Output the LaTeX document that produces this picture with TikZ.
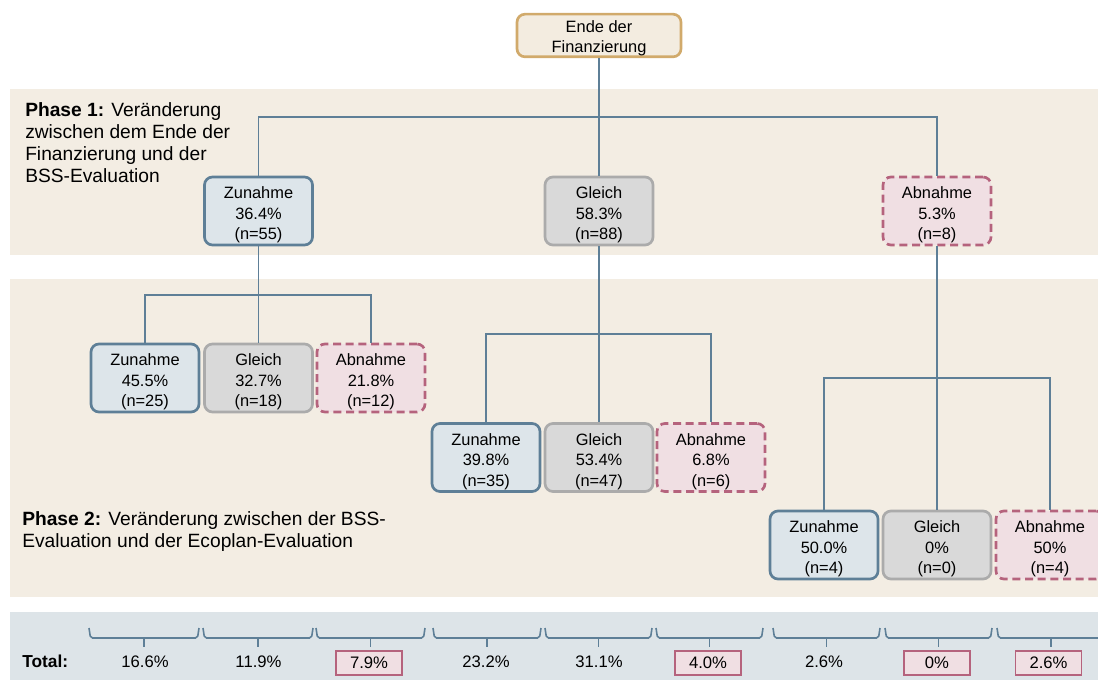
\documentclass[tikz,border=0pt]{standalone}
\usepackage{fontspec}
\setmainfont{Liberation Sans}
\definecolor{bandc}{HTML}{F3EDE3}
\definecolor{totc}{HTML}{DDE4E8}
\definecolor{linec}{HTML}{5E7F97}
\definecolor{bluef}{HTML}{DDE5EA}
\definecolor{grayf}{HTML}{D9D9D9}
\definecolor{grayd}{HTML}{ABABAB}
\definecolor{pinkf}{HTML}{F0DFE3}
\definecolor{pinkd}{HTML}{B5637D}
\definecolor{topf}{HTML}{F3ECE0}
\definecolor{topd}{HTML}{D1AA6B}
\newcommand{\tbox}[4]{\node[#1,label={[boxtext]center:#4}] (#2) at (#3) {};}
\begin{document}
\begin{tikzpicture}[x=0.75pt,y=-0.75pt,
  boxtext/.style={font=\fontsize{12.3}{15.5}\selectfont,align=center,inner sep=0pt,yshift=-3pt},
  toptext/.style={font=\fontsize{12.3}{14.5}\selectfont,align=center,inner sep=0pt,yshift=-2pt},
  box/.style={rounded corners=6pt,line width=2pt,
    minimum width=81pt,minimum height=51pt,inner sep=0pt},
  upbox/.style={box,draw=linec,fill=bluef},
  samebox/.style={box,draw=grayd,fill=grayf},
  downbox/.style={box,draw=pinkd,fill=pinkf,dash pattern=on 6pt off 3.5pt},
  topbox/.style={box,draw=topd,fill=topf,minimum width=123pt,minimum height=32pt},
  conn/.style={draw=linec,line width=1.2pt},
  brc/.style={draw=linec,line width=1.2pt,rounded corners=1.5pt},
  phase/.style={font=\fontsize{14.4}{16.5}\selectfont,align=left,inner sep=0pt,anchor=north west},
  tot/.style={font=\fontsize{12.5}{15}\selectfont,inner sep=0pt,minimum width=49.5pt,minimum height=18pt},
  totbox/.style={tot,draw=pinkd,fill=pinkf,line width=1pt}
]
\useasboundingbox (0,0) rectangle (1098,680);
% bands
\fill[bandc] (10,89) rectangle (1098,255);
\fill[bandc] (10,279) rectangle (1098,597);
\fill[totc] (10,612) rectangle (1098,680);

% phase labels
\node[phase] (p1) at (25,102) {\textbf{Phase 1:} Veränderung\\zwischen dem Ende der\\Finanzierung und der\\BSS-Evaluation};
\node[phase] (p2) at (22,511) {\textbf{Phase 2:} Veränderung zwischen der BSS-\\Evaluation und der Ecoplan-Evaluation};

% junctions
\coordinate (j0) at (599,117);
\coordinate (j1) at (258.5,295);
\coordinate (j2) at (599,334);
\coordinate (j3) at (937,378);

% nodes
\node[topbox,label={[toptext]center:Ende der\\Finanzierung}] (top) at (599,35.5) {};
\tbox{upbox}{z1}{258.5,211}{Zunahme\\36.4\%\\(n=55)}
\tbox{samebox}{g1}{599,211}{Gleich\\58.3\%\\(n=88)}
\tbox{downbox}{a1}{937,211}{Abnahme\\5.3\%\\(n=8)}

\tbox{upbox}{zz}{145,378}{Zunahme\\45.5\%\\(n=25)}
\tbox{samebox}{zg}{258.5,378}{Gleich\\32.7\%\\(n=18)}
\tbox{downbox}{za}{371,378}{Abnahme\\21.8\%\\(n=12)}

\tbox{upbox}{gz}{486,457.5}{Zunahme\\39.8\%\\(n=35)}
\tbox{samebox}{gg}{599,457.5}{Gleich\\53.4\%\\(n=47)}
\tbox{downbox}{ga}{711,457.5}{Abnahme\\6.8\%\\(n=6)}

\tbox{upbox}{az}{824,545}{Zunahme\\50.0\%\\(n=4)}
\tbox{samebox}{ag}{937,545}{Gleich\\0\%\\(n=0)}
\tbox{downbox}{aa}{1050,545}{Abnahme\\50\%\\(n=4)}

% connectors
\draw[conn] (top.south) -- (g1.north);
\draw[conn] (z1.north) |- (j0) -| (a1.north);
\draw[conn] (z1.south) -- (zg.north);
\draw[conn] (zz.north) |- (j1) -| (za.north);
\draw[conn] (g1.south) -- (gg.north);
\draw[conn] (gz.north) |- (j2) -| (ga.north);
\draw[conn] (a1.south) -- (ag.north);
\draw[conn] (az.north) |- (j3) -| (aa.north);

% braces
\foreach \a/\b in {89/199,203/313,316/425,433/541,545/652,656/763,773/880,885/992,997/1105}{
  \draw[brc] (\a,628) -- (\a+1.5,638) -- (\b-1.5,638) -- (\b,628);
  \draw[brc] ({(\a+\b)/2},638) -- ({(\a+\b)/2},647);
}

% totals
\node[font=\fontsize{13}{16}\bfseries\selectfont,anchor=west,inner sep=0pt] (tl) at (22,661) {Total:};
\node[tot] (t1) at (145,662) {16.6\%};
\node[tot] (t2) at (258.5,662) {11.9\%};
\node[totbox] (t3) at (369,663) {7.9\%};
\node[tot] (t4) at (486,662) {23.2\%};
\node[tot] (t5) at (599,662) {31.1\%};
\node[totbox] (t6) at (708,663) {4.0\%};
\node[tot] (t7) at (824,662) {2.6\%};
\node[totbox] (t8) at (937,663) {0\%};
\node[totbox] (t9) at (1048.5,663) {2.6\%};
\end{tikzpicture}
\end{document}
